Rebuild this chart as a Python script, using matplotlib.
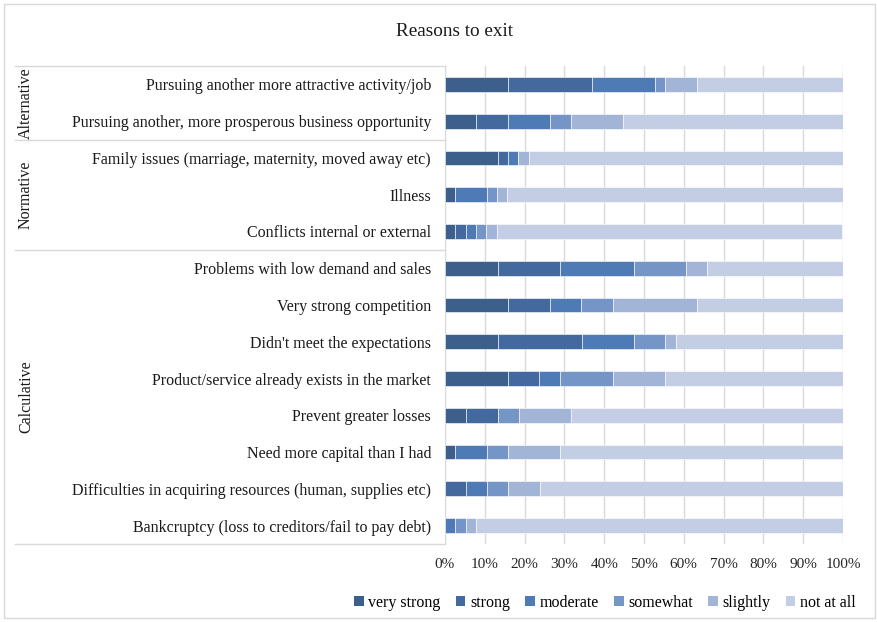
import numpy as np
import matplotlib
matplotlib.use("Agg")
import matplotlib.pyplot as plt
import matplotlib.transforms as mtransforms
from matplotlib.patches import Patch, Rectangle
from matplotlib.lines import Line2D

plt.rcParams["font.family"] = ["Liberation Serif", "DejaVu Serif"]

# Reasons, listed top to bottom.
reasons = [
    "Pursuing another more attractive activity/job",
    "Pursuing another, more prosperous business opportunity",
    "Family issues (marriage, maternity, moved away etc)",
    "Illness",
    "Conflicts internal or external",
    "Problems with low demand and sales",
    "Very strong competition",
    "Didn't meet the expectations",
    "Product/service already exists in the market",
    "Prevent greater losses",
    "Need more capital than I had",
    "Difficulties in acquiring resources (human, supplies etc)",
    "Bankcruptcy (loss to creditors/fail to pay debt)",
]

levels = ["very strong", "strong", "moderate", "somewhat", "slightly", "not at all"]

# Share of answers (%) per level, one list per level, in the order of reasons.
very_strong = [15.8, 7.9, 13.2, 2.6, 2.6, 13.2, 15.8, 13.2, 15.8, 5.3, 2.6, 0.0, 0.0]
strong      = [21.1, 7.9, 2.6, 0.0, 2.6, 15.8, 10.5, 21.1, 7.9, 7.9, 0.0, 5.3, 0.0]
moderate    = [15.8, 10.5, 2.6, 7.9, 2.6, 18.4, 7.9, 13.2, 5.3, 0.0, 7.9, 5.3, 2.6]
somewhat    = [2.6, 5.3, 0.0, 2.6, 2.6, 13.2, 7.9, 7.9, 13.2, 5.3, 5.3, 5.3, 2.6]
slightly    = [7.9, 13.2, 2.6, 2.6, 2.6, 5.3, 21.1, 2.6, 13.2, 13.2, 13.2, 7.9, 2.6]
not_at_all  = [36.8, 55.3, 78.9, 84.2, 86.8, 34.2, 36.8, 42.1, 44.7, 68.4, 71.1, 76.3, 92.1]

# Groups of reasons: (name, first index, last index)
groups = [("Alternative", 0, 1), ("Normative", 2, 4), ("Calculative", 5, 12)]

colors = ["#3d5f8b", "#44699e", "#4e7ab5", "#7495c6", "#a3b5d6", "#c3cde3"]

W, H = 878, 622
fig = plt.figure(figsize=(W / 100, H / 100), dpi=100)
ax = fig.add_axes([445 / W, 1 - 544 / H, 398 / W, 478 / H])

series = [very_strong, strong, moderate, somewhat, slightly, not_at_all]
y = np.arange(len(reasons))
left = np.zeros(len(reasons))
for vals, col, lab in zip(series, colors, levels):
    vals = np.asarray(vals)
    ax.barh(y, vals, left=left, height=0.4, color=col, edgecolor="white",
            linewidth=0.4, label=lab, zorder=3)
    left += vals

ax.set_xlim(0, 100)
ax.set_ylim(len(reasons) - 0.5, -0.5)
ax.set_xticks(np.arange(0, 101, 10))
ax.set_xticklabels([f"{v}%" for v in range(0, 101, 10)], fontsize=11,
                   color="#262626")
ax.set_yticks(y)
ax.set_yticklabels(reasons, fontsize=11.5, color="#1a1a1a")
ax.tick_params(axis="both", length=0)
ax.tick_params(axis="x", pad=10)
ax.tick_params(axis="y", pad=10)
ax.grid(axis="x", color="#d9d9d9", linewidth=1, zorder=0)
for s in ["top", "right", "bottom"]:
    ax.spines[s].set_visible(False)
ax.spines["left"].set_color("#d9d9d9")

# Group separators and labels on the left side.
trans = mtransforms.blended_transform_factory(fig.transFigure, ax.transData)
x0, x1 = 15 / W, 445 / W
bounds = [-0.5] + [g[2] + 0.5 for g in groups]
for b in bounds:
    fig.add_artist(Line2D([x0, x1], [b, b], transform=trans, color="#d9d9d9",
                          linewidth=1))
for name, i0, i1 in groups:
    fig.text(26 / W, (i0 + i1) / 2, name, transform=trans, rotation=90,
             ha="center", va="center", fontsize=11.5, color="#1a1a1a")

fig.text(455 / W, 1 - 31 / H, "Reasons to exit", ha="center", va="center",
         fontsize=13.8, color="#1a1a1a")

handles = [Patch(facecolor=c, edgecolor="none") for c in colors]
fig.legend(handles, levels, loc="center", bbox_to_anchor=(605 / W, 1 - 603 / H),
           ncol=6, frameon=False, fontsize=11.5, handlelength=0.6,
           handleheight=0.6, handletextpad=0.3, columnspacing=0.95)

fig.add_artist(Rectangle((4 / W, 4 / H), 871 / W, 614 / H,
                         transform=fig.transFigure, fill=False,
                         edgecolor="#d9d9d9", linewidth=1))

fig.savefig("out.png", dpi=100)
